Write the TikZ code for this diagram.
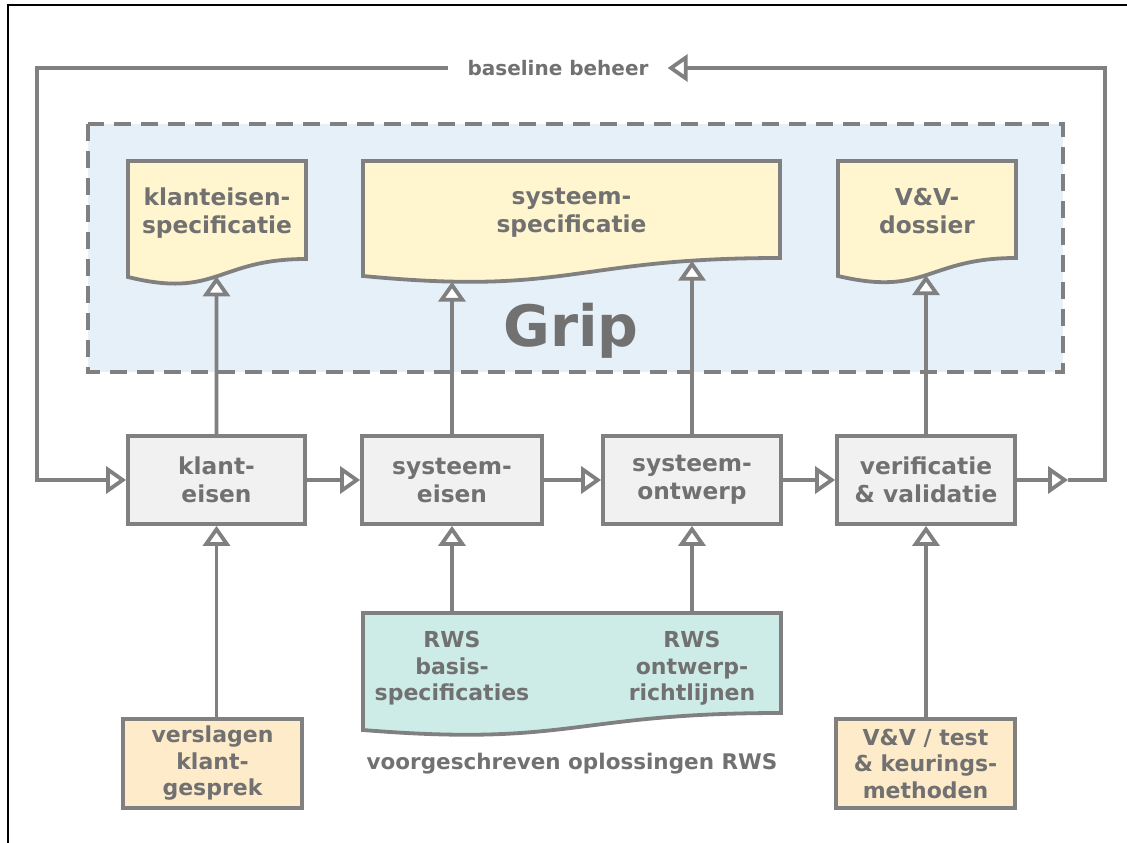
\documentclass[tikz,border=0pt]{standalone}
\usepackage{fontspec}
\setmainfont{DejaVu Sans}
\usetikzlibrary{arrows.meta,intersections}
\definecolor{lg}{HTML}{808080}
\definecolor{tg}{HTML}{717171}
\definecolor{gripbg}{HTML}{E5F0F9}
\definecolor{docfill}{HTML}{FFF5CF}
\definecolor{procfill}{HTML}{F1F1F1}
\definecolor{peach}{HTML}{FDEBC9}
\definecolor{mint}{HTML}{CDECE7}
% #1 style, #2 path name, #3 left, #4 right, #5 top, #6 right bottom, #7 wave control, #8 left bottom
\newcommand\docsh[8]{\path[#1,name path=#2] (#3,#5) -- (#4,#5) -- (#4,#6) .. controls ({(#3+#4)/2},#6) and ({(#3+#4)/2},#7) .. (#3,#8) -- cycle;}
\begin{document}
\begin{tikzpicture}[x=1pt,y=-1pt,
  ln/.style={draw=lg,line width=3.8pt},
  arr/.style={ln,-{Triangle[length=20pt,width=27pt,fill=white]}},
  txt/.style={text=tg,font=\bfseries\fontsize{23.3}{28}\selectfont,align=center},
  stxt/.style={text=tg,font=\bfseries\fontsize{22}{26.5}\selectfont,align=center},
  proc/.style={txt,draw=lg,line width=3.8pt,fill=procfill,inner sep=0pt,minimum height=88pt},
  srcbox/.style={stxt,draw=lg,line width=3.8pt,fill=peach,inner sep=0pt,minimum width=179pt,minimum height=89pt},
  docsty/.style={draw=lg,line width=3.8pt,line join=miter,fill=#1},
]
\useasboundingbox (0,0) rectangle (1127,843);
\fill[white] (0,0) rectangle (1127,843);
\draw[black,line width=2pt] (8,843) -- (8,5) -- (1127,5);

% Grip area
\draw[draw=lg,line width=3.8pt,fill=gripbg,dash pattern=on 17pt off 10pt] (88,124) rectangle (1063,372);

% documents
\docsh{docsty=docfill}{d1}{128}{306}{161}{259}{299}{277}
\docsh{docsty=docfill}{d2}{363}{780}{161}{258}{296}{276}
\docsh{docsty=docfill}{d3}{838}{1016}{161}{258}{297}{276}
\docsh{docsty=mint}{d4}{363}{781}{613}{713}{747}{730}

\node[txt] (t1) at (217,213) {klanteisen-\\specificatie};
\node[txt] (t2) at (571.5,213) {systeem-\\specificatie};
\node[txt] (t3) at (927,211) {V\&V-\\dossier};
\node[text=tg,font=\bfseries\fontsize{57}{57}\selectfont,anchor=base] (grip) at (571,346) {Grip};

% process boxes
\node[proc,minimum width=177pt] (k) at (216.5,480) {klant-\\eisen};
\node[proc,minimum width=180pt] (se) at (452,480) {systeem-\\eisen};
\node[proc,minimum width=178pt] (so) at (692,480) {systeem-\\ontwerp};
\node[proc,minimum width=178pt] (vv) at (926,480) {verificatie\\\& validatie};

% sources
\node[srcbox] (vk) at (212.5,763.5) {verslagen\\klant-\\gesprek};
\node[srcbox] (vt) at (925.5,763.5) {V\&V / test\\\& keurings-\\methoden};
\node[stxt] (r1) at (452,668.5) {RWS\\basis-\\specificaties};
\node[stxt] (r2) at (692,668.5) {RWS\\ontwerp-\\richtlijnen};
\node[text=tg,font=\bfseries\fontsize{21.5}{26}\selectfont,anchor=base] (vo) at (572,769) {voorgeschreven oplossingen RWS};
\coordinate (rt) at (572,613);

% baseline loop
\coordinate (tl) at (37,68);
\coordinate (tr) at (1105,68);
\coordinate (rarr) at (1068,480);
\node[text=tg,font=\bfseries\fontsize{20}{24}\selectfont,inner xsep=19pt] (bb) at (558,68) {baseline beheer};

\draw[arr] (vv.east) -- (rarr);
\draw[arr] (rarr) -| (tr) -- (bb.east);
\draw[arr] (bb.west) -- (tl) |- (k.west);

\draw[arr] (k.east) -- (se.west);
\draw[arr] (se.east) -- (so.west);
\draw[arr] (so.east) -- (vv.west);

% up to documents
\path[name path=v1] (k.north) -- ++(0,-200);
\path[name path=v2] (se.north) -- ++(0,-200);
\path[name path=v3] (so.north) -- ++(0,-200);
\path[name path=v4] (vv.north) -- ++(0,-200);
\path[name intersections={of=d1 and v1,by=a1}];
\path[name intersections={of=d2 and v2,by=a2}];
\path[name intersections={of=d2 and v3,by=a3}];
\path[name intersections={of=d3 and v4,by=a4}];
\draw[arr] (k.north) -- (a1);
\draw[arr] (se.north) -- (a2);
\draw[arr] (so.north) -- (a3);
\draw[arr] (vv.north) -- (a4);

% from sources
\draw[arr] (vk.north -| k.south) -- (k.south);
\draw[arr] (vt.north -| vv.south) -- (vv.south);
\draw[arr] (rt -| se.south) -- (se.south);
\draw[arr] (rt -| so.south) -- (so.south);
\end{tikzpicture}
\end{document}
